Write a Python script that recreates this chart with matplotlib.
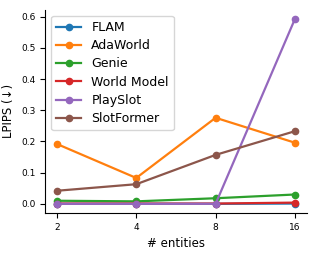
import matplotlib.pyplot as plt
import numpy as np

entities = ["2", "4", "8", "16"]
flam = [0.000, 0.000, 0.000, 0.001]
adaworld = [0.192, 0.083, 0.276, 0.196]
genie = [0.010, 0.008, 0.018, 0.030]
world_model = [0.001, 0.001, 0.001, 0.004]
playslot = [0.000, 0.000, 0.000, 0.593]
slotformer = [0.042, 0.063, 0.157, 0.233]

series = [
    ("FLAM", flam, "tab:blue"),
    ("AdaWorld", adaworld, "tab:orange"),
    ("Genie", genie, "tab:green"),
    ("World Model", world_model, "tab:red"),
    ("PlaySlot", playslot, "tab:purple"),
    ("SlotFormer", slotformer, "tab:brown"),
]

fig = plt.figure(figsize=(3.17, 2.54), dpi=100)
ax = fig.add_axes([0.142, 0.161, 0.826, 0.801])
x = np.arange(len(entities))
for name, vals, col in series:
    ax.plot(x, vals, marker="o", ms=4.5, lw=1.6, color=col, label=name)

ax.set_xticks(x)
ax.set_xticklabels(entities)
ax.set_yticks([0.0, 0.1, 0.2, 0.3, 0.4, 0.5, 0.6])
ax.tick_params(labelsize=6.5)
ax.set_xlabel("# entities", fontsize=8.5)
ax.set_ylabel("LPIPS (\u2193)", fontsize=8.5)
ax.spines["top"].set_visible(False)
ax.spines["right"].set_visible(False)
ax.legend(loc="upper left", fontsize=9, bbox_to_anchor=(0.0, 1.0),
          labelspacing=0.42)

fig.savefig("out.png", dpi=100)
